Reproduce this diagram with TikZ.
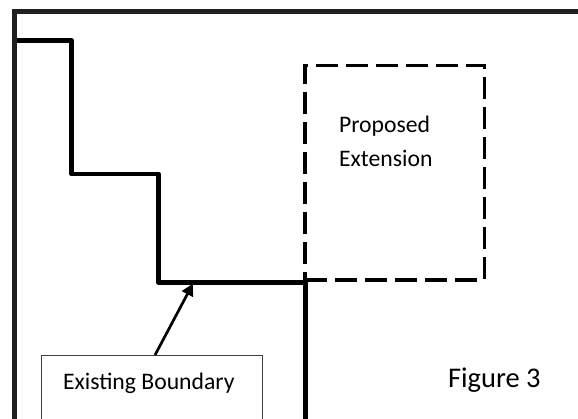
\documentclass[tikz,border=0pt]{standalone}
\usepackage{fontspec}
\setmainfont{Carlito}
\usetikzlibrary{arrows.meta}
\definecolor{framec}{HTML}{231F20}
\definecolor{boxc}{HTML}{404040}
\begin{document}
\begin{tikzpicture}[x=1pt,y=-1pt,
  framestyle/.style={draw=framec,line width=5.2pt},
  wall/.style={draw=black,line width=4.7pt,line join=round},
  dashbox/.style={draw=black,line width=3.3pt,dash pattern=on 22pt off 8pt,rectangle,inner sep=0pt,outer sep=0pt},
  labelbox/.style={draw=boxc,line width=0.9pt,rectangle,inner sep=0pt,outer sep=0pt},
  lbl/.style={inner sep=0pt,outer sep=0pt,font=\fontsize{23.7}{28}\selectfont,text=black},
  figlbl/.style={inner sep=0pt,outer sep=0pt,font=\fontsize{28.5}{34}\selectfont,text=black},
  pointer/.style={draw=black,line width=2.7pt,-{Triangle[length=12pt,width=12pt]}}
]
\useasboundingbox (0,0) rectangle (578,419);
\clip (0,0) rectangle (578,419);
% outer frame
\coordinate (fb) at (14.5,440);
\coordinate (fc) at (14.5,11.5);
\coordinate (fr) at (600,11.5);
\draw[framestyle] (fb) -- (fc) -- (fr);
% existing boundary (staircase)
\coordinate (w0) at (17,40.7);
\coordinate (w1) at (71.7,40.7);
\coordinate (w2) at (71.7,174);
\coordinate (w3) at (158.3,174);
\coordinate (w4) at (158.3,282.3);
\coordinate (w5) at (305.7,282.3);
\coordinate (w6) at (305.7,440);
\draw[wall] (w0) -- (w1) -- (w2) -- (w3) -- (w4) -- (w5) -- (w6);
% proposed extension
\node[dashbox,anchor=north west,minimum width=179.5pt,minimum height=214.3pt] (pe) at (305,65.7) {};
\node[lbl,anchor=base west] (pt1) at (339,133) {Proposed};
\node[lbl,anchor=base west] (pt2) at (339,166.7) {Extension};
% existing boundary label box
\node[labelbox,anchor=north west,minimum width=220.3pt,minimum height=110pt] (eb) at (41.7,355) {};
\node[lbl,anchor=base west] (ebt) at (63,389) {Existing Boundary};
\coordinate (tip) at (193,283.5);
\draw[pointer] ([xshift=3.2pt]eb.north) -- (tip);
% figure label
\node[figlbl,anchor=base west] (fig) at (448,388) {Figure 3};
\end{tikzpicture}
\end{document}
